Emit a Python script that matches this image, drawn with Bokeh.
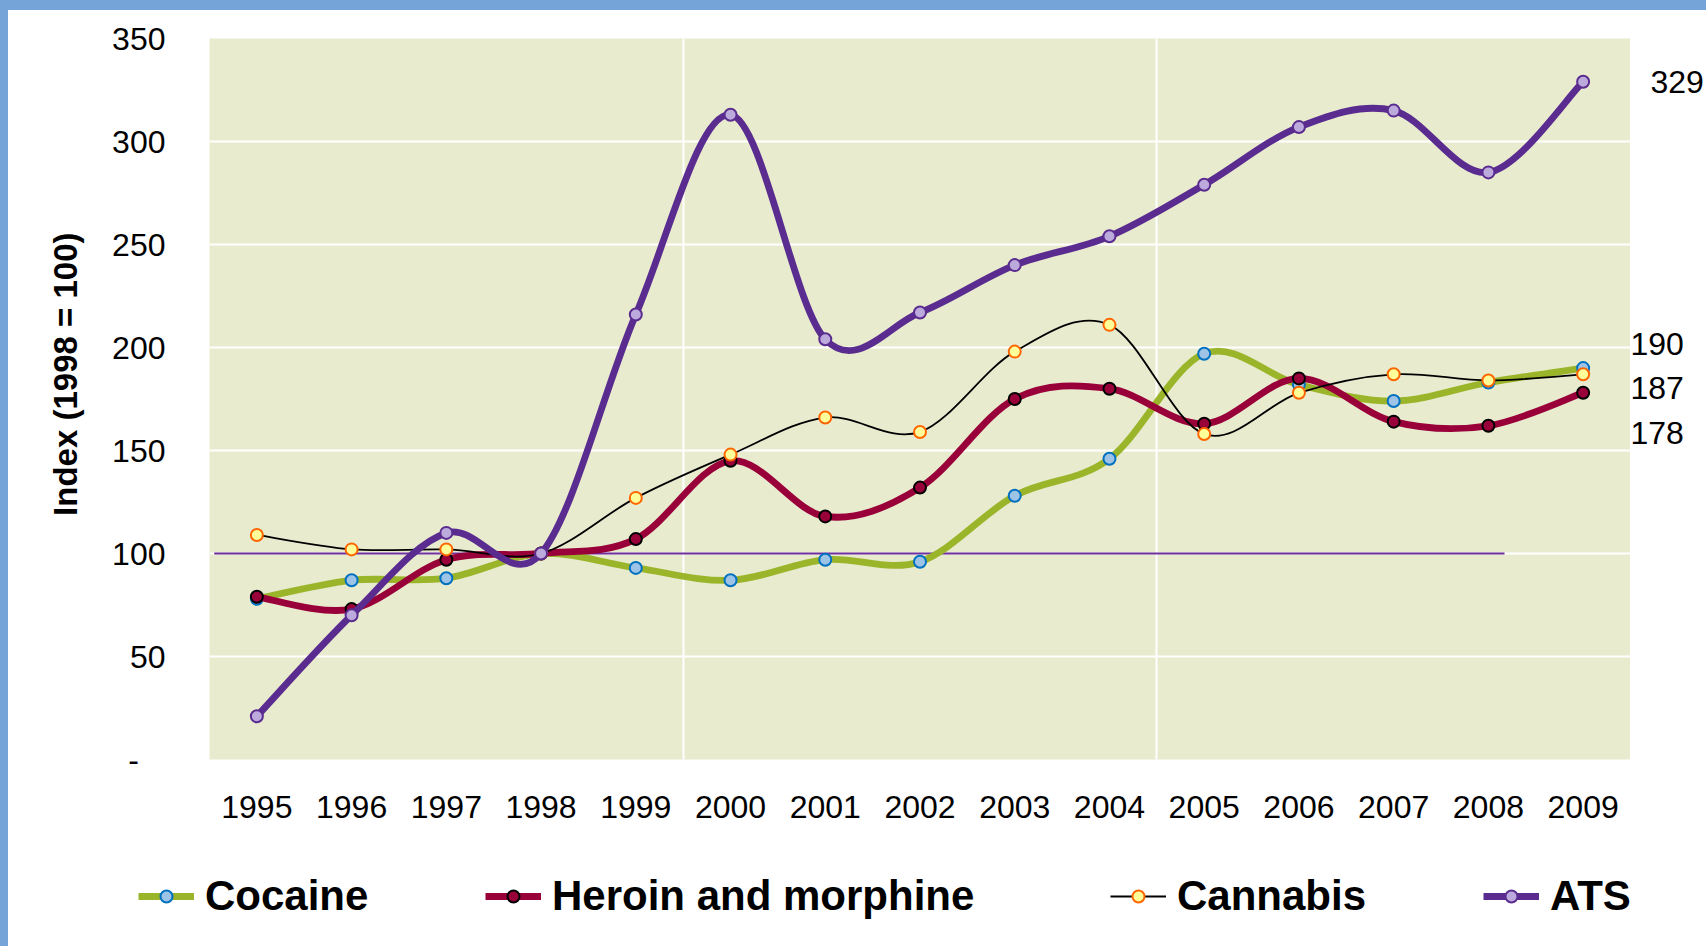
from bokeh.plotting import figure
from bokeh.layouts import column, row
from bokeh.models import Range1d, FixedTicker, Legend, LegendItem, Title, Div
from bokeh.embed import file_html
from bokeh.resources import INLINE

# ---------------- data ----------------
years = list(range(1995, 2010))
cocaine = [78, 87, 88, 100, 93, 87, 97, 96, 128, 146, 197, 182, 174, 183, 190]
heroin = [79, 73, 97, 100, 107, 145, 118, 132, 175, 180, 163, 185, 164, 162, 178]
cannabis = [109, 102, 102, 100, 127, 148, 166, 159, 198, 211, 158, 178, 187, 184, 187]
ats = [21, 70, 110, 100, 216, 313, 204, 217, 240, 254, 279, 307, 315, 285, 329]
series_names = ["Cocaine", "Heroin and morphine", "Cannabis", "ATS"]
y_ticks = [0, 50, 100, 150, 200, 250, 300, 350]
y_tick_labels = ["-\u00a0\u00a0\u00a0", "50", "100", "150", "200", "250", "300", "350"]
base_index = 100
base_line_span = [1994.55, 2008.17]
y_axis_title = "Index (1998 = 100)"

FONT = "Liberation Sans"
BLUE = "#74A4D8"


def smooth_segments(xs, ys):
    """Cubic Bezier control points (Catmull-Rom style, like spreadsheet smoothed lines)."""
    n = len(xs)
    out = {k: [] for k in ("x0", "y0", "x1", "y1", "cx0", "cy0", "cx1", "cy1")}
    for i in range(n - 1):
        pm = i - 1 if i > 0 else i
        pp = i + 2 if i + 2 < n else i + 1
        out["x0"].append(xs[i]); out["y0"].append(ys[i])
        out["x1"].append(xs[i + 1]); out["y1"].append(ys[i + 1])
        out["cx0"].append(xs[i] + (xs[i + 1] - xs[pm]) / 6.0)
        out["cy0"].append(ys[i] + (ys[i + 1] - ys[pm]) / 6.0)
        out["cx1"].append(xs[i + 1] - (xs[pp] - xs[i]) / 6.0)
        out["cy1"].append(ys[i + 1] - (ys[pp] - ys[i]) / 6.0)
    return out


y_range = Range1d(0, 350)

p = figure(width=1622, height=840, output_backend="svg", toolbar_location=None,
           x_range=Range1d(1994.5, 2009.5), y_range=y_range,
           min_border_left=201, min_border_right=0, min_border_top=28, min_border_bottom=91)

p.background_fill_color = "#E8EBCE"
p.border_fill_color = "white"
p.outline_line_color = None

# grid
p.ygrid.ticker = FixedTicker(ticks=y_ticks)
p.ygrid.grid_line_color = "white"
p.ygrid.grid_line_width = 2
p.xgrid.ticker = FixedTicker(ticks=[1999.5, 2004.5])
p.xgrid.grid_line_color = "white"
p.xgrid.grid_line_width = 2

# axes
p.xaxis.ticker = FixedTicker(ticks=years)
p.yaxis.ticker = FixedTicker(ticks=y_ticks)
p.yaxis.major_label_overrides = {t: l for t, l in zip(y_ticks, y_tick_labels)}
for ax in (p.xaxis[0], p.yaxis[0]):
    ax.axis_line_color = None
    ax.major_tick_line_color = None
    ax.minor_tick_line_color = None
    ax.major_label_text_font = FONT
    ax.major_label_text_font_size = "32px"
    ax.major_label_text_color = "black"
p.xaxis.major_label_standoff = 30
p.yaxis.major_label_standoff = 38

p.add_layout(Title(text=y_axis_title, align="right", offset=194, standoff=52,
                   text_font=FONT, text_font_size="33px", text_font_style="bold",
                   text_color="black"), "left")

styles = [
    dict(data=cocaine, line="#9BB52B", width=6.8, fill="#9DC3E6", edge="#0070C0"),
    dict(data=heroin, line="#99003A", width=6.8, fill="#99003A", edge="#000000"),
    dict(data=cannabis, line="#000000", width=1.8, fill="#FFFF99", edge="#FF6600"),
    dict(data=ats, line="#5B2C90", width=6.8, fill="#BBAADB", edge="#5B2C90"),
]

# base line at 100
p.segment(x0=[base_line_span[0]], y0=[base_index], x1=[base_line_span[1]], y1=[base_index],
          line_color="#7030A0", line_width=2)

for name, st in zip(series_names, styles):
    seg = smooth_segments(years, st["data"])
    p.bezier(source=dict(seg), x0="x0", y0="y0", x1="x1", y1="y1",
             cx0="cx0", cy0="cy0", cx1="cx1", cy1="cy1",
             line_color=st["line"], line_width=st["width"], line_cap="round")
    p.scatter(years, st["data"], size=12, marker="circle",
              fill_color=st["fill"], line_color=st["edge"], line_width=2)

# ---- right-hand end-value labels (own narrow panel sharing the y scale) ----
side = figure(width=76, height=840, output_backend="svg", toolbar_location=None,
              x_range=Range1d(0, 1), y_range=y_range,
              min_border_left=0, min_border_right=0, min_border_top=28, min_border_bottom=91)
side.axis.visible = False
side.grid.visible = False
side.outline_line_color = None
side.border_fill_color = "white"
side.background_fill_color = "white"
end_offsets = {"ATS": (20, 0), "Cocaine": (0, -24), "Cannabis": (0, 14), "Heroin and morphine": (0, 40)}
for name, st in zip(series_names, styles):
    xo, yo = end_offsets[name]
    side.text(x=[0], y=[st["data"][-1]], text=[str(st["data"][-1])], x_offset=xo, y_offset=yo,
              text_font={"value": FONT}, text_font_size="32px",
              text_baseline="middle", text_align="left", text_color="black")

# ---- legend panel ----
leg = figure(width=1698, height=96, output_backend="svg", toolbar_location=None,
             x_range=Range1d(0, 1), y_range=Range1d(0, 1),
             min_border_left=0, min_border_right=0, min_border_top=0, min_border_bottom=0)
leg.axis.visible = False
leg.grid.visible = False
leg.outline_line_color = None
leg.background_fill_color = "white"
leg.border_fill_color = "white"
legend_x = {"Cocaine": 130, "Heroin and morphine": 477, "Cannabis": 1102, "ATS": 1475}
for name, st in zip(series_names, styles):
    lr = leg.line(years, st["data"], line_color=st["line"], line_width=st["width"])
    sr = leg.scatter(years, st["data"], size=12, marker="circle",
                     fill_color=st["fill"], line_color=st["edge"], line_width=2)
    legend = Legend(items=[LegendItem(label=name, renderers=[lr, sr])], orientation="horizontal",
                    location=(legend_x[name], 26),
                    padding=0, margin=0, glyph_width=56, glyph_height=30, label_standoff=11,
                    border_line_alpha=0, background_fill_alpha=0,
                    label_text_font=FONT, label_text_font_size="42px", label_text_font_style="bold",
                    label_text_color="black")
    leg.add_layout(legend)

top_bar = Div(width=1706, height=10, margin=0, styles={"background-color": BLUE})
left_bar1 = Div(width=8, height=840, margin=0, styles={"background-color": BLUE})
left_bar2 = Div(width=8, height=96, margin=0, styles={"background-color": BLUE})

page = column(top_bar, row(left_bar1, p, side), row(left_bar2, leg))

open("out.html", "w").write(file_html(page, INLINE))
